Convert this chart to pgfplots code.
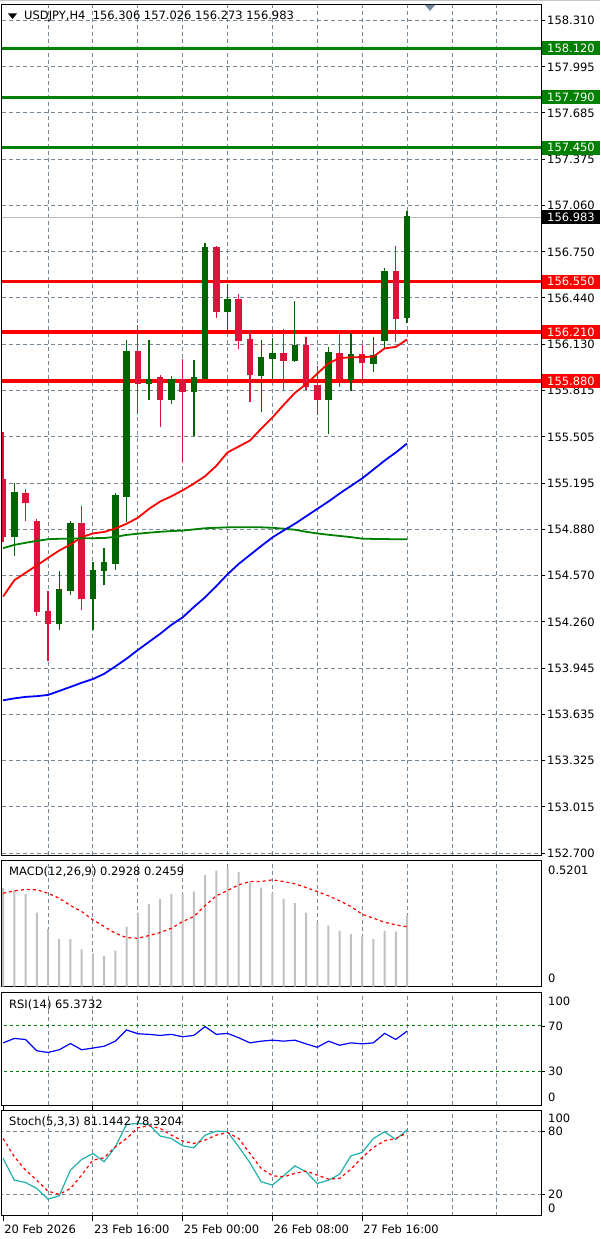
\documentclass[border=0pt]{standalone}
\usepackage{fontspec}
\setmainfont{DejaVu Sans}
\usepackage{pgfplots}
\usepackage{pgfplotstable}
\pgfplotsset{compat=1.18}

\definecolor{gridc}{RGB}{119,136,153}
\definecolor{bull}{RGB}{0,100,0}
\definecolor{bear}{RGB}{220,20,60}
\definecolor{lvlgreen}{RGB}{0,128,0}
\definecolor{macdgray}{RGB}{192,192,192}
\definecolor{stochc}{RGB}{32,178,170}
\newcommand\f{\fontsize{11.5pt}{13pt}\selectfont}

\pgfplotstableread{
x o h l c
1 154.834 155.195 154.704 155.126
5 154.246 154.599 154.204 154.476
6 154.470 154.939 154.443 154.917
8 154.414 154.666 154.208 154.606
9 154.599 154.756 154.505 154.655
10 154.649 155.128 154.610 155.106
11 155.102 156.158 154.934 156.080
13 155.862 156.158 155.754 155.888
15 155.756 155.913 155.728 155.888
17 155.805 156.024 155.510 155.906
18 155.895 156.807 155.895 156.777
20 156.348 156.532 156.212 156.427
23 155.917 156.158 155.671 156.036
24 156.029 156.167 155.895 156.063
26 156.018 156.420 156.010 156.118
29 155.756 156.112 155.527 156.069
31 155.888 156.207 155.812 156.056
33 155.996 156.174 155.944 156.051
34 156.152 156.643 156.096 156.614
36 156.306 157.026 156.273 156.983
}\bulls

\pgfplotstableread{
x o h l c
0 155.218 155.535 154.800 154.833
2 155.124 155.153 154.939 155.061
3 154.934 154.952 154.302 154.327
4 154.331 154.465 153.994 154.246
7 154.923 155.039 154.338 154.414
12 156.080 156.259 155.660 155.862
14 155.902 155.924 155.571 155.756
16 155.888 156.029 155.334 155.805
19 156.777 156.790 156.308 156.348
21 156.427 156.467 156.096 156.152
22 156.158 156.226 155.738 155.924
25 156.063 156.234 155.817 156.018
27 156.118 156.174 155.817 155.839
28 155.850 155.980 155.649 155.756
30 156.063 156.226 155.839 155.895
32 156.056 156.125 155.862 156.000
35 156.614 156.789 156.140 156.301
}\bears

\pgfplotstableread{
x r g b
0 154.431 154.756 153.732
1 154.540 154.778 153.745
2 154.590 154.792 153.755
3 154.640 154.805 153.760
4 154.690 154.816 153.768
5 154.740 154.819 153.795
6 154.780 154.820 153.822
7 154.830 154.822 153.850
8 154.855 154.823 153.875
9 154.865 154.824 153.910
10 154.888 154.832 153.960
11 154.920 154.845 154.012
12 154.960 154.853 154.070
13 155.020 154.860 154.125
14 155.070 154.866 154.180
15 155.105 154.871 154.240
16 155.145 154.874 154.290
17 155.190 154.882 154.360
18 155.240 154.890 154.425
19 155.310 154.893 154.500
20 155.400 154.896 154.580
21 155.440 154.896 154.650
22 155.480 154.896 154.710
23 155.560 154.896 154.770
24 155.635 154.893 154.828
25 155.720 154.887 154.875
26 155.800 154.880 154.920
27 155.860 154.866 154.970
28 155.930 154.855 155.020
29 156.000 154.846 155.070
30 156.035 154.838 155.124
31 156.040 154.830 155.175
32 156.042 154.820 155.225
33 156.045 154.818 155.285
34 156.100 154.817 155.345
35 156.110 154.816 155.400
36 156.160 154.816 155.460
}\mas

\pgfplotstableread{
x macd sig rsi k d
0 0.4045 0.3840 55.0 54.1 73.0
1 0.3979 0.3938 58.9 33.5 55.7
2 0.3798 0.3992 58.0 31.3 43.0
3 0.3045 0.3979 48.0 25.6 33.5
4 0.2358 0.3840 46.5 15.5 23.1
5 0.1947 0.3634 48.9 18.7 20.0
6 0.1947 0.3333 54.4 43.0 25.6
7 0.1535 0.3086 48.9 53.1 38.3
8 0.1370 0.2745 50.4 58.8 52.5
9 0.1263 0.2469 52.0 50.9 54.7
10 0.1481 0.2193 56.5 65.1 65.1
11 0.2469 0.2016 66.4 86.3 73.0
12 0.3045 0.1988 63.1 87.3 83.2
13 0.3387 0.2099 62.5 86.3 85.1
14 0.3609 0.2222 61.6 75.3 82.5
15 0.3798 0.2399 62.5 73.0 76.2
16 0.3840 0.2675 60.4 66.1 70.5
17 0.3909 0.2881 61.6 64.2 68.3
18 0.4597 0.3333 69.4 76.2 71.5
19 0.4774 0.3733 62.5 80.0 76.2
20 0.4868 0.3951 63.4 79.4 78.7
21 0.4704 0.4185 59.5 65.1 73.0
22 0.4321 0.4321 55.0 50.0 58.8
23 0.4074 0.4321 56.5 32.0 44.6
24 0.3840 0.4391 57.4 28.8 37.7
25 0.3609 0.4321 56.5 37.7 36.7
26 0.3428 0.4226 57.4 47.1 39.9
27 0.3045 0.4074 54.1 41.4 42.1
28 0.2675 0.3909 51.1 30.4 38.3
29 0.2510 0.3733 56.5 33.5 34.5
30 0.2292 0.3527 52.9 39.2 35.1
31 0.2169 0.3292 55.0 56.6 44.0
32 0.2058 0.2975 54.1 59.8 55.0
33 0.1947 0.2811 55.0 73.0 64.5
34 0.2292 0.2646 63.4 79.4 70.8
35 0.2263 0.2539 58.0 72.1 73.0
36 0.2928 0.2459 65.37 81.14 78.32
}\osc

\tikzset{rlab/.style={anchor=west, inner sep=0pt, font=\f, xshift=7pt}}

\pgfplotsset{
  mtpane/.style={
    scale only axis, width=539pt,
    xmin=-0.1, xmax=47.94,
    anchor=north west,
    axis line style={black, line width=1pt},
    xtick={4,8,...,44}, xticklabels={},
    xtick style={draw=none},
    xmajorgrids=true,
    major grid style={gridc, line width=0.8pt, dash pattern=on 4pt off 3pt},
    clip mode=individual,
    ytick pos=right, yticklabel pos=right,
    tick align=outside, major tick length=4pt,
    ytick style={black, line width=0.8pt},
    tick label style={font=\f},
    yticklabel style={anchor=west, inner sep=0pt, xshift=2pt},
  },
  candle/.style={draw=none, mark=none,
    error bars/.cd, y dir=plus, y explicit, error mark=none,
    error bar style={draw=#1, line width=1.3pt}},
  cbody/.style={draw=none, mark=none,
    error bars/.cd, y dir=plus, y explicit, error mark=none,
    error bar style={draw=#1, line width=6.5pt}},
}

\begin{document}
\f
\begin{tikzpicture}
\path[use as bounding box, fill=white] (0,0) rectangle (600pt,-1239pt);
\draw[gray!45, line width=1pt] (0,-0.5pt) -- (600pt,-0.5pt);

% ---------------- main price pane ----------------
\begin{axis}[mtpane, at={(2pt,-5pt)}, height=850pt,
  ymin=152.691, ymax=158.411,
  ymajorgrids=true,
  ytick={158.31,157.995,157.685,157.375,157.06,156.75,156.44,156.13,155.815,155.505,155.195,154.88,154.57,154.26,153.945,153.635,153.325,153.015,152.7},
  yticklabels={158.310,157.995,157.685,157.375,157.060,156.750,156.440,156.130,155.815,155.505,155.195,154.880,154.570,154.260,153.945,153.635,153.325,153.015,152.700},
]
\addplot[gray!55, line width=0.8pt] coordinates {(-1,156.983) (49,156.983)};
\addplot[lvlgreen, line width=3pt] coordinates {(-1,158.12) (49,158.12)};
\addplot[lvlgreen, line width=3pt] coordinates {(-1,157.79) (49,157.79)};
\addplot[lvlgreen, line width=3pt] coordinates {(-1,157.45) (49,157.45)};
\addplot[red, line width=3.5pt] coordinates {(-1,156.55) (49,156.55)};
\addplot[red, line width=3.5pt] coordinates {(-1,156.21) (49,156.21)};
\addplot[red, line width=3.5pt] coordinates {(-1,155.88) (49,155.88)};
% wicks
\addplot[candle=bull] table[x=x, y=l, y error expr=\thisrow{h}-\thisrow{l}] {\bulls};
\addplot[candle=bear] table[x=x, y=l, y error expr=\thisrow{h}-\thisrow{l}] {\bears};
% bodies
\addplot[cbody=bull] table[x=x, y=o, y error expr=\thisrow{c}-\thisrow{o}+0.005] {\bulls};
\addplot[cbody=bear] table[x=x, y=c, y error expr=\thisrow{o}-\thisrow{c}+0.005] {\bears};
% moving averages
\addplot[red, line width=1.8pt] table[x=x, y=r] {\mas};
\addplot[lvlgreen, line width=1.8pt] table[x=x, y=g] {\mas};
\addplot[blue, line width=1.8pt] table[x=x, y=b] {\mas};
\coordinate (g1) at (axis cs:0,158.12);
\coordinate (g2) at (axis cs:0,157.79);
\coordinate (g3) at (axis cs:0,157.45);
\coordinate (cp) at (axis cs:0,156.983);
\coordinate (r1) at (axis cs:0,156.55);
\coordinate (r2) at (axis cs:0,156.21);
\coordinate (r3) at (axis cs:0,155.88);
\end{axis}

\foreach \n/\c/\t in {g1/lvlgreen/158.120, g2/lvlgreen/157.790, g3/lvlgreen/157.450, cp/black/156.983, r1/red/156.550, r2/red/156.210, r3/red/155.880}
  \node[fill=\c, text=white, anchor=west, minimum height=14pt, text width=48pt, inner xsep=5pt, inner ysep=0pt, font=\f] at (542pt,0 |- \n) {\t};

\fill[black] (8pt,-13.5pt) -- (17pt,-13.5pt) -- (12.5pt,-19pt) -- cycle;
\node[anchor=west, inner sep=0pt, font=\f] at (24pt,-16.5pt) {USDJPY,H4\ \ 156.306 157.026 156.273 156.983};
\fill[gridc] (425pt,-5pt) -- (435pt,-5pt) -- (430pt,-11pt) -- cycle;

% ---------------- MACD pane ----------------
\begin{axis}[mtpane, at={(2pt,-860pt)}, height=126.5pt,
  ymin=0, ymax=0.5206, ytick=\empty]
\addplot[ybar, bar width=2pt, fill=macdgray, draw=none] table[x=x, y=macd] {\osc};
\addplot[red, line width=1.2pt, dash pattern=on 3pt off 3pt] table[x=x, y=sig] {\osc};
\node[rlab] at (axis cs:47.94,0.4794) {0.5201};
\node[rlab] at (axis cs:47.94,0.035) {0};
\end{axis}
\node[anchor=west, inner sep=0pt, font=\f] at (9pt,-872pt) {MACD(12,26,9) 0.2928 0.2459};

% ---------------- RSI pane ----------------
\begin{axis}[mtpane, at={(2pt,-992pt)}, height=113pt,
  ymin=0, ymax=100, ytick={30,70}, yticklabels={}]
\addplot[lvlgreen, line width=1pt, dash pattern=on 3pt off 3pt] coordinates {(-1,70) (49,70)};
\addplot[lvlgreen, line width=1pt, dash pattern=on 3pt off 3pt] coordinates {(-1,30) (49,30)};
\addplot[blue, line width=1.2pt] table[x=x, y=rsi] {\osc};
\node[rlab] at (axis cs:47.94,92) {100};
\node[rlab] at (axis cs:47.94,70) {70};
\node[rlab] at (axis cs:47.94,30) {30};
\node[rlab] at (axis cs:47.94,6.5) {0};
\end{axis}
\node[anchor=west, inner sep=0pt, font=\f] at (9pt,-1005pt) {RSI(14) 65.3732};

% ---------------- Stochastic pane ----------------
\begin{axis}[mtpane, at={(2pt,-1110pt)}, height=105.5pt,
  ymin=0, ymax=100, ytick={20,80}, yticklabels={},
  extra x ticks={0,8,16,24,32},
  extra x tick labels={20 Feb 2026,23 Feb 16:00,25 Feb 00:00,26 Feb 08:00,27 Feb 16:00},
  extra x tick style={grid=none, xtick style={draw=black, line width=1pt}, major tick length=5pt,
    xticklabel style={anchor=north west, inner sep=0pt, xshift=1pt, yshift=-4pt}},
]
\addplot[gridc, line width=0.8pt, dash pattern=on 4pt off 3pt] coordinates {(-1,80) (49,80)};
\addplot[gridc, line width=0.8pt, dash pattern=on 4pt off 3pt] coordinates {(-1,20) (49,20)};
\addplot[stochc, line width=1.2pt] table[x=x, y=k] {\osc};
\addplot[red, line width=1.2pt, dash pattern=on 3pt off 3pt] table[x=x, y=d] {\osc};
\node[rlab] at (axis cs:47.94,92.4) {100};
\node[rlab] at (axis cs:47.94,80) {80};
\node[rlab] at (axis cs:47.94,20) {20};
\node[rlab] at (axis cs:47.94,7.1) {0};
\end{axis}
\node[anchor=west, inner sep=0pt, font=\f] at (9pt,-1122pt) {Stoch(5,3,3) 81.1442 78.3204};
\end{tikzpicture}
\end{document}
